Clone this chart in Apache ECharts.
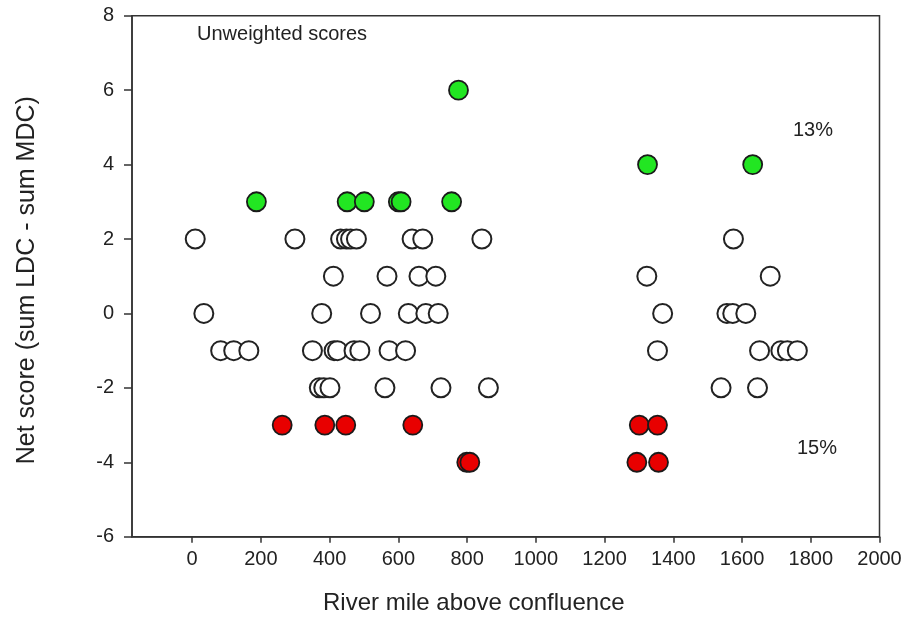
<!DOCTYPE html>
<html>
<head>
<meta charset="utf-8">
<script src="https://cdn.jsdelivr.net/npm/echarts@6/dist/echarts.min.js"></script>
<style>
html,body{margin:0;padding:0;background:#fff;}
#chart{width:901px;height:623px;}
</style>
</head>
<body>
<div id="chart"></div>
<script>
// Tick labels
const xTicks = [0, 200, 400, 600, 800, 1000, 1200, 1400, 1600, 1800, 2000];
const yTicks = [-6, -4, -2, 0, 2, 4, 6, 8];

// Green (positive) scores
const greenX = [187, 451, 501, 600, 608, 755, 775, 1325, 1631];
const greenY = [3, 3, 3, 3, 3, 3, 6, 4, 4];

// Open (neutral) scores
const openX = [9, 299, 432, 449, 461, 478, 640, 671, 843, 1575,
               411, 567, 660, 709, 1323, 1682,
               34, 377, 519, 629, 680, 716, 1369, 1556, 1573, 1611,
               83, 121, 165, 350, 413, 423, 471, 488, 573, 621, 1354, 1651, 1713, 1732, 1761,
               370, 383, 401, 561, 724, 862, 1539, 1645];
const openY = [2, 2, 2, 2, 2, 2, 2, 2, 2, 2,
               1, 1, 1, 1, 1, 1,
               0, 0, 0, 0, 0, 0, 0, 0, 0, 0,
               -1, -1, -1, -1, -1, -1, -1, -1, -1, -1, -1, -1, -1, -1, -1,
               -2, -2, -2, -2, -2, -2, -2, -2];

// Red (negative) scores
const redX = [262, 386, 447, 642, 1301, 1354, 799, 808, 1294, 1357];
const redY = [-3, -3, -3, -3, -3, -3, -4, -4, -4, -4];

const zip = (xs, ys) => xs.map((x, i) => [x, ys[i]]);
const FONT = 'Liberation Sans, Arial, sans-serif';
const AX = '#333';

const chart = echarts.init(document.getElementById('chart'), null, {renderer: 'canvas'});
chart.setOption({
  backgroundColor: '#fff',
  animation: false,
  grid: {
    left: 132, right: 21.5, top: 15.7, bottom: 86.3,
    show: true, borderColor: AX, borderWidth: 1.5,
    containLabel: false, outerBoundsMode: 'none'
  },
  xAxis: {
    type: 'value', min: -175, max: 2000,
    axisLine: {show: true, onZero: false, lineStyle: {color: AX, width: 1.5}},
    axisTick: {show: true, length: 6, customValues: xTicks, lineStyle: {color: AX, width: 1.5}},
    axisLabel: {customValues: xTicks, fontSize: 20, color: '#222', margin: 13, fontFamily: FONT,
                formatter: v => String(v)},
    splitLine: {show: false},
    name: 'River mile above confluence', nameLocation: 'middle', nameGap: 55,
    nameTextStyle: {fontSize: 24, color: '#222', fontFamily: FONT, padding: [0, 64, 0, 0]}
  },
  yAxis: {
    type: 'value', min: -6, max: 8, interval: 2,
    axisLine: {show: true, onZero: false, lineStyle: {color: AX, width: 1.5}},
    axisTick: {show: true, length: 8, lineStyle: {color: AX, width: 1.5}},
    axisLabel: {fontSize: 20, color: '#222', margin: 18, fontFamily: FONT},
    splitLine: {show: false},
    name: 'Net score (sum LDC - sum MDC)', nameLocation: 'middle', nameGap: 92,
    nameTextStyle: {fontSize: 25, color: '#222', fontFamily: FONT, padding: [0, 8, 0, 0]}
  },
  graphic: [
    {type: 'text', left: 197, top: 24, style: {text: 'Unweighted scores', fill: '#222', font: '20px Liberation Sans, Arial, sans-serif'}},
    {type: 'text', left: 793, top: 120, style: {text: '13%', fill: '#222', font: '20px Liberation Sans, Arial, sans-serif'}},
    {type: 'text', left: 797, top: 438, style: {text: '15%', fill: '#222', font: '20px Liberation Sans, Arial, sans-serif'}}
  ],
  series: [
    {
      type: 'scatter', name: 'neutral', data: zip(openX, openY), symbolSize: 19,
      itemStyle: {color: '#fff', borderColor: '#222', borderWidth: 2, opacity: 1}
    },
    {
      type: 'scatter', name: 'positive', data: zip(greenX, greenY), symbolSize: 19,
      itemStyle: {color: '#22e622', borderColor: '#1a1a1a', borderWidth: 1.8, opacity: 1}
    },
    {
      type: 'scatter', name: 'negative', data: zip(redX, redY), symbolSize: 19,
      itemStyle: {color: '#e80000', borderColor: '#1a1a1a', borderWidth: 1.8, opacity: 1}
    }
  ]
});
</script>
</body>
</html>
